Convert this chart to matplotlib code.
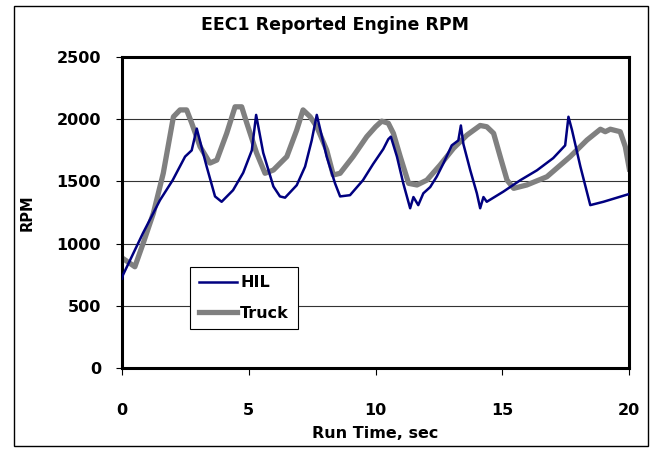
import matplotlib
matplotlib.use("Agg")
import matplotlib.pyplot as plt
from matplotlib.patches import Rectangle

# wide bold face to mimic the horizontally stretched Arial of the original
plt.rcParams['font.family'] = ['DejaVu Sans']
plt.rcParams['font.weight'] = 'bold'

# ---- data ----
hil_t = [0.0, 0.04, 0.83, 1.5, 2.0, 2.49, 2.75, 2.95, 3.34, 3.67, 3.93, 4.38,
         4.78, 5.12, 5.29, 5.57, 5.97, 6.23, 6.43, 6.89, 7.22, 7.48, 7.68,
         8.07, 8.4, 8.6, 8.99, 9.5, 9.9, 10.3, 10.5, 10.6, 10.84, 11.09,
         11.36, 11.49, 11.68, 11.88, 12.15, 12.41, 12.67, 13.0, 13.26, 13.36,
         13.46, 13.73, 13.99, 14.12, 14.25, 14.38, 15.03, 15.7, 16.36, 17.0,
         17.47, 17.6, 17.74, 18.07, 18.46, 18.98, 20.0]
hil_rpm = [720, 748, 1085, 1350, 1510, 1700, 1750, 1925, 1620, 1380, 1337, 1430,
           1570, 1750, 2035, 1730, 1460, 1380, 1370, 1470, 1620, 1830, 2035,
           1700, 1485, 1380, 1390, 1510, 1640, 1760, 1840, 1860, 1700, 1485,
           1285, 1375, 1310, 1405, 1455, 1540, 1645, 1790, 1830, 1950,
           1800, 1590, 1405, 1285, 1375, 1337, 1418, 1510, 1590, 1688,
           1790, 2020, 1913, 1620, 1310, 1337, 1400]

truck_t = [0.0, 0.05, 0.51, 0.84, 1.24, 1.63, 2.03, 2.29, 2.55, 2.75, 3.08,
           3.47, 3.74, 4.13, 4.46, 4.72, 4.92, 5.31, 5.64, 5.97, 6.5, 6.89,
           7.14, 7.42, 7.68, 8.07, 8.33, 8.6, 9.11, 9.65, 10.0, 10.24, 10.5,
           10.7, 10.97, 11.3, 11.63, 12.02, 12.54, 13.07, 13.6, 14.12, 14.38,
           14.65, 14.91, 15.18, 15.44, 15.96, 16.75, 17.67, 18.33, 18.86,
           19.05, 19.25, 19.64, 19.84, 20.0]
truck_rpm = [880, 880, 815, 1005, 1245, 1566, 2020, 2075, 2075, 1970, 1780,
             1648, 1672, 1887, 2100, 2100, 1970, 1728, 1566, 1592, 1700, 1913,
             2075, 2020, 1940, 1753, 1552, 1566, 1700, 1860, 1940, 1985, 1968,
             1887, 1700, 1485, 1472, 1511, 1632, 1767, 1873, 1950, 1940,
             1887, 1700, 1511, 1445, 1472, 1538, 1700, 1833, 1920,
             1900, 1920, 1900, 1780, 1600]

x_ticks = [0, 5, 10, 15, 20]
y_ticks = [0, 500, 1000, 1500, 2000, 2500]

fig = plt.figure(figsize=(6.59, 4.49), dpi=100)
ax = fig.add_axes([0.185, 0.180, 0.770, 0.693])

# outer chart border
fig.patches.append(Rectangle((14/659, 3/449), 634/659, 440/449,
                             transform=fig.transFigure, fill=False,
                             edgecolor='black', linewidth=1.0))

for y in y_ticks[1:-1]:
    ax.axhline(y, color='#333333', linewidth=0.8, zorder=1)

ax.plot(hil_t, hil_rpm, color='#000080', linewidth=1.8, label='HIL', zorder=3)
ax.plot(truck_t, truck_rpm, color='#808080', linewidth=3.8, label='Truck',
        zorder=2, solid_joinstyle='round')

ax.set_xlim(0, 20)
ax.set_ylim(0, 2500)
ax.set_xticks(x_ticks)
ax.set_yticks(y_ticks)
ax.tick_params(axis='x', direction='out', length=5, width=0.8, pad=20,
               labelsize=11.5)
ax.tick_params(axis='y', direction='out', length=4, width=0.8, pad=11,
               labelsize=11.5)
for s in ax.spines.values():
    s.set_linewidth(2.2)

fig.text(335/659, 1 - 25/449, 'EEC1 Reported Engine RPM', fontsize=12.5,
         fontweight='bold', ha='center', va='center')
ax.set_xlabel('Run Time, sec', fontsize=11.5, fontweight='bold', labelpad=6)
ax.set_ylabel('RPM', fontsize=10.5, fontweight='bold', labelpad=16)

leg = ax.legend(loc='lower left', bbox_to_anchor=(0.134, 0.125),
                borderaxespad=0, fancybox=False, framealpha=1,
                edgecolor='black', handlelength=2.4, handletextpad=0.2,
                labelspacing=0.95, borderpad=0.55,
                prop={'weight': 'bold', 'size': 11.5})
leg.get_frame().set_linewidth(0.8)

fig.savefig('out.png', dpi=100)
